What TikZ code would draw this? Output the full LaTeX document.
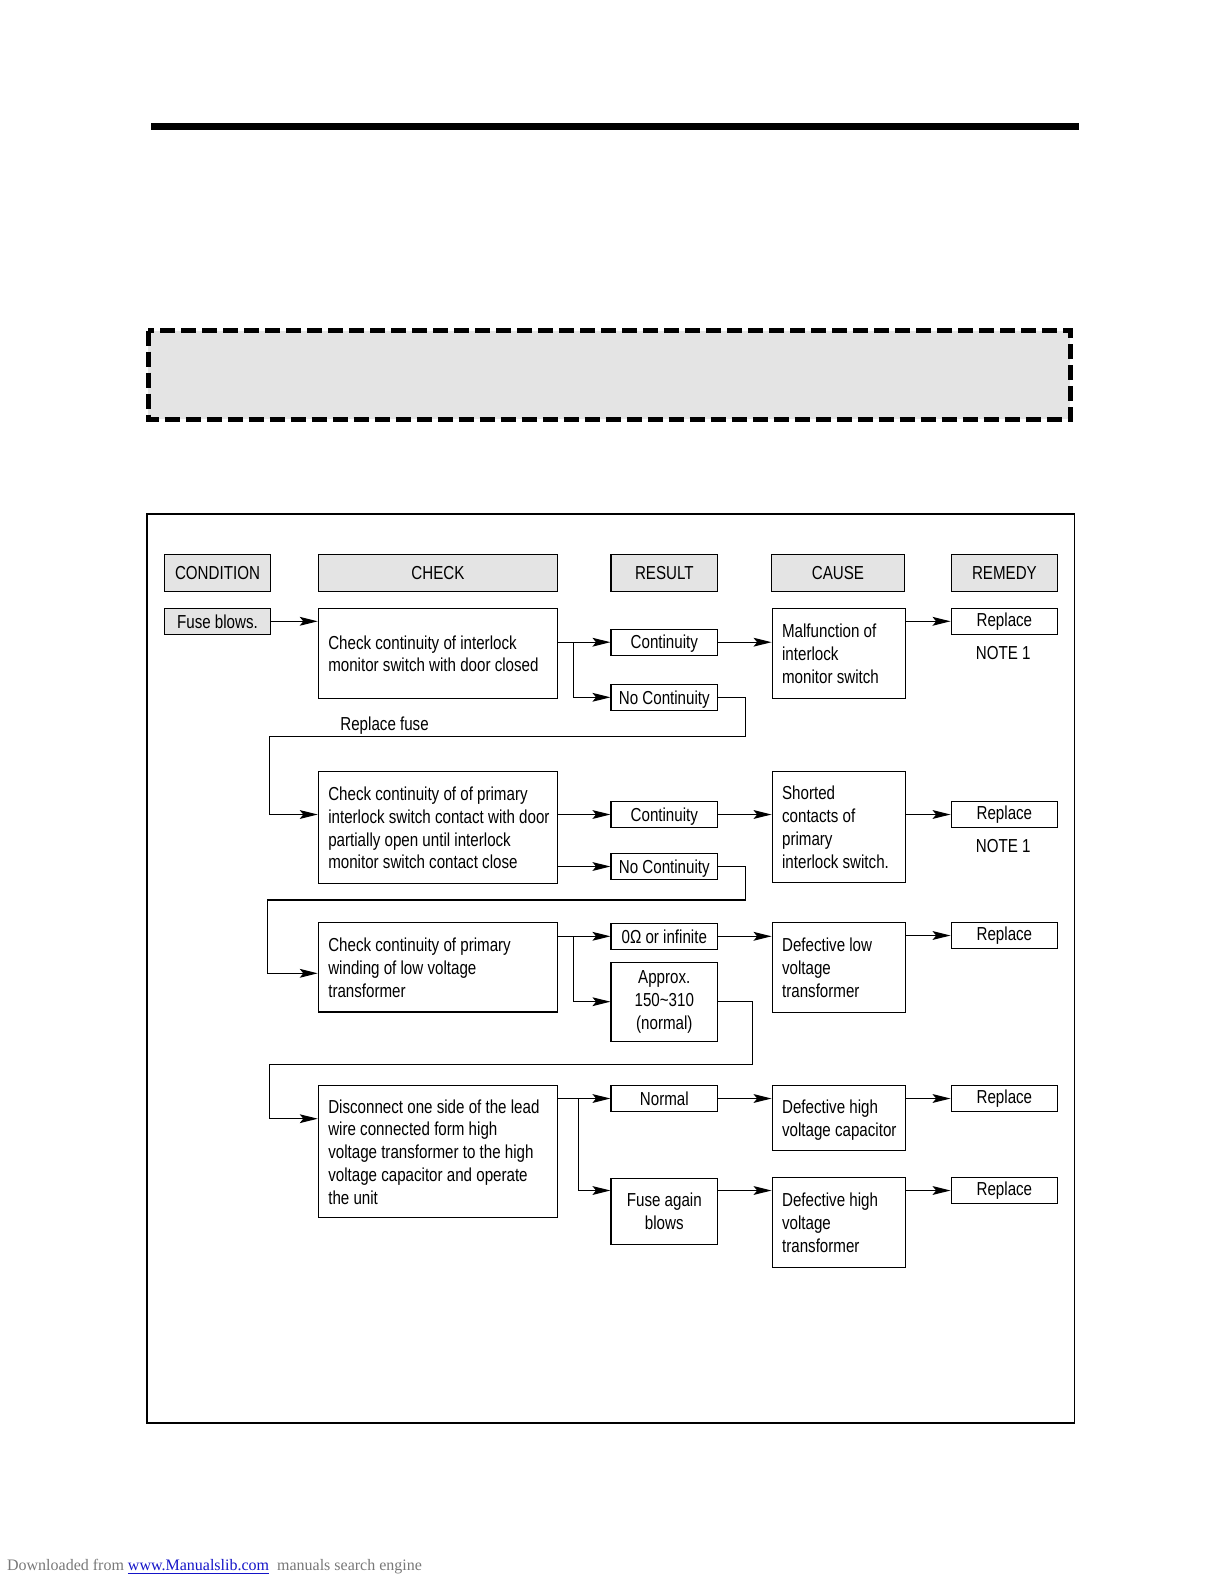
\documentclass[tikz,border=0pt]{standalone}
\usepackage{fontspec}
\setmainfont[FakeStretch=0.805]{Liberation Sans}
\newfontfamily\footfont{Liberation Serif}
\usetikzlibrary{arrows.meta}
\definecolor{hdr}{RGB}{228,228,228}
\definecolor{footgray}{RGB}{120,120,120}
\definecolor{linkblue}{RGB}{20,20,200}
\newcommand\leftblock[2]{\raisebox{-1.3pt}[\height][\depth]{\makebox[#1][l]{\begin{tabular}{@{}l@{}}#2\end{tabular}}}}
\begin{document}
\begin{tikzpicture}[x=0.5pt,y=-0.5pt,
  font=\fontsize{9.4}{11.4}\selectfont,
  bx/.style={draw, line width=0.55pt, inner sep=0pt, align=center},
  one/.style={text height=6.9pt, text depth=0.2pt},
  hd/.style={bx, one, fill=hdr, minimum height=18.7pt},
  res/.style={bx, one, minimum width=53.3pt, minimum height=13pt},
  rem/.style={bx, one, minimum width=53.3pt, minimum height=13pt},
  ln/.style={line width=0.55pt},
  arr/.style={ln, -{Stealth[length=9pt,width=4.4pt,inset=1.8pt]}}]
\useasboundingbox (0,0) rectangle (1224,1584);
% top bar
\fill (150.7,123.3) rectangle (1078.6,130);
% dashed grey box
\draw[line width=2.4pt, dash pattern=on 7.5pt off 3pt, fill=hdr] (148.3,330.5) rectangle (1070.2,419.2);
% main frame
\draw[ln] (147,514) rectangle (1074.5,1423);
% headers
\node[hd, minimum width=53.2pt] (hcond) at (217.5,573) {CONDITION};
\node[hd, minimum width=119.6pt] (hchk) at (437.9,573) {CHECK};
\node[hd, minimum width=53.3pt] (hres) at (664.3,573) {RESULT};
\node[hd, minimum width=66.7pt] (hcau) at (838,573) {CAUSE};
\node[hd, minimum width=53.3pt] (hrem) at (1004.4,573) {REMEDY};
% row 1
\node[bx, one, fill=hdr, minimum width=53.2pt, minimum height=13pt] (fuse) at (217.5,621.3) {Fuse blows.};
\node[bx, minimum width=119.6pt, minimum height=45pt] (chk1) at (437.9,653.3)
  {\leftblock{109.6pt}{Check continuity of interlock\\monitor switch with door closed}};
\node[res] (cont1) at (664.3,642.2) {Continuity};
\node[res] (ncont1) at (664.3,697.3) {No Continuity};
\node[bx, minimum width=66.7pt, minimum height=45pt] (mal) at (838.8,653.3)
  {\leftblock{56.7pt}{Malfunction of\\interlock\\monitor switch}};
\node[rem] (rep1) at (1004.4,621.3) {\raisebox{1pt}{Replace}};
\node[one] (note1) at (1003.3,652.7) {NOTE 1};
\node[anchor=base west, inner sep=0pt] (rfuse) at (340,730) {Replace fuse};
% row 2
\node[bx, minimum width=119.6pt, minimum height=55.8pt] (chk2) at (437.9,827.5)
  {\leftblock{109.6pt}{Check continuity of of primary\\interlock switch contact with door\\partially open until interlock\\monitor switch contact close}};
\node[res] (cont2) at (664.3,814.5) {Continuity};
\node[res] (ncont2) at (664.3,866.5) {No Continuity};
\node[bx, minimum width=66.7pt, minimum height=55.3pt] (short) at (838.8,827)
  {\leftblock{56.7pt}{Shorted\\contacts of\\primary\\interlock switch.}};
\node[rem] (rep2) at (1004.4,814.5) {\raisebox{1pt}{Replace}};
\node[one] (note2) at (1003.3,845.7) {NOTE 1};
% row 3
\node[bx, minimum width=119.6pt, minimum height=44.7pt] (chk3) at (437.9,967.3)
  {\leftblock{109.6pt}{Check continuity of primary\\winding of low voltage\\transformer}};
\node[res] (zero) at (664.3,936.3) {0Ω or infinite};
\node[bx, minimum width=53.3pt, minimum height=39.35pt] (approx) at (664.3,1001.7)
  {Approx.\\150\textasciitilde310\\(normal)};
\node[bx, minimum width=66.7pt, minimum height=44.8pt] (dlow) at (838.8,967.5)
  {\leftblock{56.7pt}{Defective low\\voltage\\transformer}};
\node[rem] (rep3) at (1004.4,935.5) {\raisebox{1pt}{Replace}};
% row 4
\node[bx, minimum width=119.6pt, minimum height=65.8pt] (chk4) at (437.9,1151.5)
  {\leftblock{109.6pt}{Disconnect one side of the lead\\wire connected form high\\voltage transformer to the high\\voltage capacitor and operate\\the unit}};
\node[res] (normal) at (664.3,1098.5) {Normal};
\node[bx, minimum width=53.3pt, minimum height=32.85pt] (fag) at (664.3,1211.2)
  {Fuse again\\blows};
\node[bx, minimum width=66.7pt, minimum height=32.15pt] (dhc) at (838.8,1117.9)
  {\leftblock{56.7pt}{Defective high\\voltage capacitor}};
\node[rem] (rep4) at (1004.4,1098.5) {\raisebox{1pt}{Replace}};
\node[bx, minimum width=66.7pt, minimum height=44.8pt] (dht) at (838.8,1222.5)
  {\leftblock{56.7pt}{Defective high\\voltage\\transformer}};
\node[rem] (rep5) at (1004.4,1190.5) {\raisebox{1pt}{Replace}};
% footer
\node[anchor=base west, inner sep=0pt, font=\footfont\fontsize{8}{10}\selectfont] (foot) at (6.7,1570.7)
  {\textcolor{footgray}{Downloaded from }\textcolor{linkblue}{\underline{www.Manualslib.com}}\textcolor{footgray}{\ \ manuals search engine}};
% helper coordinates
\coordinate (j1) at (573.3,642.2);
\coordinate (j3) at (573.3,936.3);
\coordinate (j4) at (578.3,1098.5);
\coordinate (r1x) at (745.3,736.7);
\coordinate (r1l) at (269.3,736.7);
\coordinate (r2x) at (745.3,900);
\coordinate (r2l) at (267.3,900);
\coordinate (r3x) at (752.7,1064.3);
\coordinate (r3l) at (269.3,1064.3);
% connectors row 1
\draw[arr] (fuse.east) -- (fuse.east -| chk1.west);
\draw[arr] (cont1.west -| chk1.east) -- (cont1.west);
\draw[arr] (j1) |- (ncont1.west);
\draw[arr] (cont1.east) -- (cont1.east -| mal.west);
\draw[arr] (rep1.west -| mal.east) -- (rep1.west);
\draw[arr] (ncont1.east) -| (r1x) -- (r1l) |- (chk2.west |- cont2.west);
% row 2
\draw[arr] (cont2.west -| chk2.east) -- (cont2.west);
\draw[arr] (ncont2.west -| chk2.east) -- (ncont2.west);
\draw[arr] (cont2.east) -- (cont2.east -| short.west);
\draw[arr] (rep2.west -| short.east) -- (rep2.west);
\draw[arr] (ncont2.east) -| (r2x) -- (r2l) |- ([yshift=-3pt]chk3.west);
% row 3
\draw[arr] (zero.west -| chk3.east) -- (zero.west);
\draw[arr] (j3) |- (approx.west);
\draw[arr] (zero.east) -- (zero.east -| dlow.west);
\draw[arr] (rep3.west -| dlow.east) -- (rep3.west);
\draw[arr] (approx.east) -| (r3x) -- (r3l) |- ([yshift=16.4pt]chk4.west);
% row 4
\draw[arr] (normal.west -| chk4.east) -- (normal.west);
\draw[arr] (j4) |- (fag.west |- rep5.west);
\draw[arr] (normal.east) -- (normal.east -| dhc.west);
\draw[arr] (rep4.west -| dhc.east) -- (rep4.west);
\draw[arr] (fag.east |- rep5.west) -- (dht.west |- rep5.west);
\draw[arr] (rep5.west -| dht.east) -- (rep5.west);
\end{tikzpicture}
\end{document}
